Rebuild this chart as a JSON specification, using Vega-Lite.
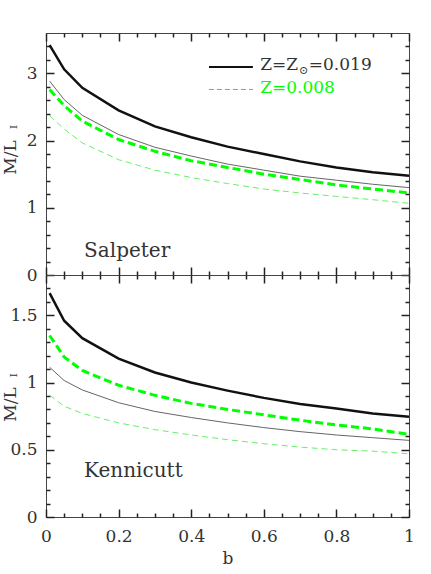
{
  "$schema": "https://vega.github.io/schema/vega-lite/v6.json",
  "padding": {"top": 31, "left": 0, "right": 5, "bottom": 5},
  "background": "white",
  "config": {
    "view": {"stroke": "#444", "strokeWidth": 1},
    "axis": {
      "grid": false,
      "domain": false,
      "ticks": true,
      "tickColor": "#222",
      "tickWidth": 1.5,
      "tickOpacity": 1,
      "labelFont": "DejaVu Serif",
      "labelFontSize": 17,
      "labelColor": "#333",
      "labelFlush": false,
      "labelOverlap": false,
      "titleFont": "DejaVu Serif",
      "titleFontSize": 17,
      "titleFontWeight": "normal",
      "titleColor": "#333"
    },
    "text": {"font": "DejaVu Serif", "color": "#333"}
  },
  "data": {
    "values": [
      {"panel": "Salpeter", "line": "solar1", "b": 0.01, "v": 3.42},
      {"panel": "Salpeter", "line": "solar1", "b": 0.05, "v": 3.06},
      {"panel": "Salpeter", "line": "solar1", "b": 0.1, "v": 2.785},
      {"panel": "Salpeter", "line": "solar1", "b": 0.2, "v": 2.45},
      {"panel": "Salpeter", "line": "solar1", "b": 0.3, "v": 2.21},
      {"panel": "Salpeter", "line": "solar1", "b": 0.4, "v": 2.05},
      {"panel": "Salpeter", "line": "solar1", "b": 0.5, "v": 1.91},
      {"panel": "Salpeter", "line": "solar1", "b": 0.6, "v": 1.8},
      {"panel": "Salpeter", "line": "solar1", "b": 0.7, "v": 1.69},
      {"panel": "Salpeter", "line": "solar1", "b": 0.8, "v": 1.6},
      {"panel": "Salpeter", "line": "solar1", "b": 0.9, "v": 1.53},
      {"panel": "Salpeter", "line": "solar1", "b": 1.0, "v": 1.478},
      {"panel": "Salpeter", "line": "solar2", "b": 0.01, "v": 2.885},
      {"panel": "Salpeter", "line": "solar2", "b": 0.05, "v": 2.61},
      {"panel": "Salpeter", "line": "solar2", "b": 0.1, "v": 2.375},
      {"panel": "Salpeter", "line": "solar2", "b": 0.2, "v": 2.09},
      {"panel": "Salpeter", "line": "solar2", "b": 0.3, "v": 1.9},
      {"panel": "Salpeter", "line": "solar2", "b": 0.4, "v": 1.77},
      {"panel": "Salpeter", "line": "solar2", "b": 0.5, "v": 1.65},
      {"panel": "Salpeter", "line": "solar2", "b": 0.6, "v": 1.56},
      {"panel": "Salpeter", "line": "solar2", "b": 0.7, "v": 1.47},
      {"panel": "Salpeter", "line": "solar2", "b": 0.8, "v": 1.41},
      {"panel": "Salpeter", "line": "solar2", "b": 0.9, "v": 1.35},
      {"panel": "Salpeter", "line": "solar2", "b": 1.0, "v": 1.3},
      {"panel": "Salpeter", "line": "low1", "b": 0.01, "v": 2.76},
      {"panel": "Salpeter", "line": "low1", "b": 0.05, "v": 2.52},
      {"panel": "Salpeter", "line": "low1", "b": 0.1, "v": 2.29},
      {"panel": "Salpeter", "line": "low1", "b": 0.2, "v": 2.015},
      {"panel": "Salpeter", "line": "low1", "b": 0.3, "v": 1.84},
      {"panel": "Salpeter", "line": "low1", "b": 0.4, "v": 1.7},
      {"panel": "Salpeter", "line": "low1", "b": 0.5, "v": 1.6},
      {"panel": "Salpeter", "line": "low1", "b": 0.6, "v": 1.5},
      {"panel": "Salpeter", "line": "low1", "b": 0.7, "v": 1.42},
      {"panel": "Salpeter", "line": "low1", "b": 0.8, "v": 1.34},
      {"panel": "Salpeter", "line": "low1", "b": 0.9, "v": 1.28},
      {"panel": "Salpeter", "line": "low1", "b": 1.0, "v": 1.22},
      {"panel": "Salpeter", "line": "low2", "b": 0.01, "v": 2.37},
      {"panel": "Salpeter", "line": "low2", "b": 0.05, "v": 2.17},
      {"panel": "Salpeter", "line": "low2", "b": 0.1, "v": 1.965},
      {"panel": "Salpeter", "line": "low2", "b": 0.2, "v": 1.715},
      {"panel": "Salpeter", "line": "low2", "b": 0.3, "v": 1.56},
      {"panel": "Salpeter", "line": "low2", "b": 0.4, "v": 1.45},
      {"panel": "Salpeter", "line": "low2", "b": 0.5, "v": 1.36},
      {"panel": "Salpeter", "line": "low2", "b": 0.6, "v": 1.28},
      {"panel": "Salpeter", "line": "low2", "b": 0.7, "v": 1.22},
      {"panel": "Salpeter", "line": "low2", "b": 0.8, "v": 1.17},
      {"panel": "Salpeter", "line": "low2", "b": 0.9, "v": 1.12},
      {"panel": "Salpeter", "line": "low2", "b": 1.0, "v": 1.067},
      {"panel": "Kennicutt", "line": "solar1", "b": 0.01, "v": 1.665},
      {"panel": "Kennicutt", "line": "solar1", "b": 0.05, "v": 1.46},
      {"panel": "Kennicutt", "line": "solar1", "b": 0.1, "v": 1.33},
      {"panel": "Kennicutt", "line": "solar1", "b": 0.2, "v": 1.178},
      {"panel": "Kennicutt", "line": "solar1", "b": 0.3, "v": 1.075},
      {"panel": "Kennicutt", "line": "solar1", "b": 0.4, "v": 1.0},
      {"panel": "Kennicutt", "line": "solar1", "b": 0.5, "v": 0.94},
      {"panel": "Kennicutt", "line": "solar1", "b": 0.6, "v": 0.886},
      {"panel": "Kennicutt", "line": "solar1", "b": 0.7, "v": 0.84},
      {"panel": "Kennicutt", "line": "solar1", "b": 0.8, "v": 0.807},
      {"panel": "Kennicutt", "line": "solar1", "b": 0.9, "v": 0.77},
      {"panel": "Kennicutt", "line": "solar1", "b": 1.0, "v": 0.745},
      {"panel": "Kennicutt", "line": "solar2", "b": 0.01, "v": 1.114},
      {"panel": "Kennicutt", "line": "solar2", "b": 0.05, "v": 1.015},
      {"panel": "Kennicutt", "line": "solar2", "b": 0.1, "v": 0.945},
      {"panel": "Kennicutt", "line": "solar2", "b": 0.2, "v": 0.85},
      {"panel": "Kennicutt", "line": "solar2", "b": 0.3, "v": 0.785},
      {"panel": "Kennicutt", "line": "solar2", "b": 0.4, "v": 0.74},
      {"panel": "Kennicutt", "line": "solar2", "b": 0.5, "v": 0.7},
      {"panel": "Kennicutt", "line": "solar2", "b": 0.6, "v": 0.665},
      {"panel": "Kennicutt", "line": "solar2", "b": 0.7, "v": 0.635},
      {"panel": "Kennicutt", "line": "solar2", "b": 0.8, "v": 0.61},
      {"panel": "Kennicutt", "line": "solar2", "b": 0.9, "v": 0.59},
      {"panel": "Kennicutt", "line": "solar2", "b": 1.0, "v": 0.57},
      {"panel": "Kennicutt", "line": "low1", "b": 0.01, "v": 1.35},
      {"panel": "Kennicutt", "line": "low1", "b": 0.05, "v": 1.19},
      {"panel": "Kennicutt", "line": "low1", "b": 0.1, "v": 1.09},
      {"panel": "Kennicutt", "line": "low1", "b": 0.2, "v": 0.98},
      {"panel": "Kennicutt", "line": "low1", "b": 0.3, "v": 0.905},
      {"panel": "Kennicutt", "line": "low1", "b": 0.4, "v": 0.845},
      {"panel": "Kennicutt", "line": "low1", "b": 0.5, "v": 0.8},
      {"panel": "Kennicutt", "line": "low1", "b": 0.6, "v": 0.76},
      {"panel": "Kennicutt", "line": "low1", "b": 0.7, "v": 0.72},
      {"panel": "Kennicutt", "line": "low1", "b": 0.8, "v": 0.685},
      {"panel": "Kennicutt", "line": "low1", "b": 0.9, "v": 0.655},
      {"panel": "Kennicutt", "line": "low1", "b": 1.0, "v": 0.615},
      {"panel": "Kennicutt", "line": "low2", "b": 0.01, "v": 0.906},
      {"panel": "Kennicutt", "line": "low2", "b": 0.05, "v": 0.824},
      {"panel": "Kennicutt", "line": "low2", "b": 0.1, "v": 0.77},
      {"panel": "Kennicutt", "line": "low2", "b": 0.2, "v": 0.7},
      {"panel": "Kennicutt", "line": "low2", "b": 0.3, "v": 0.65},
      {"panel": "Kennicutt", "line": "low2", "b": 0.4, "v": 0.61},
      {"panel": "Kennicutt", "line": "low2", "b": 0.5, "v": 0.575},
      {"panel": "Kennicutt", "line": "low2", "b": 0.6, "v": 0.545},
      {"panel": "Kennicutt", "line": "low2", "b": 0.7, "v": 0.52},
      {"panel": "Kennicutt", "line": "low2", "b": 0.8, "v": 0.5},
      {"panel": "Kennicutt", "line": "low2", "b": 0.9, "v": 0.49},
      {"panel": "Kennicutt", "line": "low2", "b": 1.0, "v": 0.47}
    ]
  },
  "spacing": 0,
  "bounds": "flush",
  "vconcat": [
    {
      "width": 363,
      "height": 242,
      "resolve": {"scale": {"x": "independent", "y": "independent"}},
      "layer": [
        {
          "transform": [{"filter": "datum.panel === 'Salpeter' && datum.line === 'solar1'"}],
          "mark": {"type": "line", "stroke": "#111", "strokeWidth": 2.5},
          "encoding": {
            "x": {"field": "b", "type": "quantitative", "scale": {"domain": [0, 1], "nice": false},
              "axis": {"orient": "bottom", "values": [0, 0.2, 0.4, 0.6, 0.8, 1], "offset": -8, "tickSize": 8, "labels": false, "title": null}},
            "y": {"field": "v", "type": "quantitative", "scale": {"domain": [0, 3.6], "nice": false, "zero": false},
              "axis": {"orient": "left", "values": [0, 1, 2, 3], "format": "~g", "offset": -8, "tickSize": 8, "labelPadding": 9, "title": "M/L", "titleAngle": 270, "titleBaseline": "alphabetic", "titleX": -39, "titleY": 124}}
          }
        },
        {
          "transform": [{"filter": "datum.panel === 'Salpeter' && datum.line === 'solar2'"}],
          "mark": {"type": "line", "stroke": "#666", "strokeWidth": 1},
          "encoding": {
            "x": {"field": "b", "type": "quantitative", "scale": {"domain": [0, 1], "nice": false},
              "axis": {"orient": "bottom", "values": [0.05, 0.1, 0.15, 0.25, 0.3, 0.35, 0.45, 0.5, 0.55, 0.65, 0.7, 0.75, 0.85, 0.9, 0.95], "offset": -4, "tickSize": 4, "labels": false, "title": null}},
            "y": {"field": "v", "type": "quantitative", "scale": {"domain": [0, 3.6], "nice": false, "zero": false},
              "axis": {"orient": "left", "values": [0.2, 0.4, 0.6, 0.8, 1.2, 1.4, 1.6, 1.8, 2.2, 2.4, 2.6, 2.8, 3.2, 3.4], "offset": -4, "tickSize": 4, "labels": false, "title": null}}
          }
        },
        {
          "transform": [{"filter": "datum.panel === 'Salpeter' && datum.line === 'low1'"}],
          "mark": {"type": "line", "stroke": "#00ff00", "strokeWidth": 3, "strokeDash": [8, 4]},
          "encoding": {
            "x": {"field": "b", "type": "quantitative", "scale": {"domain": [0, 1], "nice": false},
              "axis": {"orient": "top", "values": [0, 0.2, 0.4, 0.6, 0.8, 1], "offset": -8, "tickSize": 8, "labels": false, "title": null}},
            "y": {"field": "v", "type": "quantitative", "scale": {"domain": [0, 3.6], "nice": false, "zero": false},
              "axis": {"orient": "right", "values": [0, 1, 2, 3], "offset": -8, "tickSize": 8, "labels": false, "title": null}}
          }
        },
        {
          "transform": [{"filter": "datum.panel === 'Salpeter' && datum.line === 'low2'"}],
          "mark": {"type": "line", "stroke": "#55ee55", "strokeWidth": 0.9, "strokeDash": [6, 4]},
          "encoding": {
            "x": {"field": "b", "type": "quantitative", "scale": {"domain": [0, 1], "nice": false},
              "axis": {"orient": "top", "values": [0.05, 0.1, 0.15, 0.25, 0.3, 0.35, 0.45, 0.5, 0.55, 0.65, 0.7, 0.75, 0.85, 0.9, 0.95], "offset": -4, "tickSize": 4, "labels": false, "title": null}},
            "y": {"field": "v", "type": "quantitative", "scale": {"domain": [0, 3.6], "nice": false, "zero": false},
              "axis": {"orient": "right", "values": [0.2, 0.4, 0.6, 0.8, 1.2, 1.4, 1.6, 1.8, 2.2, 2.4, 2.6, 2.8, 3.2, 3.4], "offset": -4, "tickSize": 4, "labels": false, "title": null}}
          }
        },
        {
          "data": {"values": [{}]},
          "mark": {"type": "text", "text": "I", "fontSize": 10, "angle": 270, "align": "center", "baseline": "alphabetic"},
          "encoding": {
            "x": {"datum": -0.081, "type": "quantitative", "scale": {"domain": [0, 1], "nice": false}, "axis": null},
            "y": {"datum": 2.2, "type": "quantitative", "scale": {"domain": [0, 3.6], "nice": false, "zero": false}, "axis": null}
          }
        },
        {
          "data": {"values": [{}]},
          "mark": {"type": "text", "text": "Salpeter", "fontSize": 20, "align": "left", "baseline": "alphabetic"},
          "encoding": {
            "x": {"datum": 0.105, "type": "quantitative", "scale": {"domain": [0, 1], "nice": false}, "axis": null},
            "y": {"datum": 0.274, "type": "quantitative", "scale": {"domain": [0, 3.6], "nice": false, "zero": false}, "axis": null}
          }
        },
        {
          "data": {"values": [{}]},
          "mark": {"type": "rule", "stroke": "#111", "strokeWidth": 2},
          "encoding": {
            "x": {"datum": 0.449, "type": "quantitative", "scale": {"domain": [0, 1], "nice": false}, "axis": null},
            "x2": {"datum": 0.57},
            "y": {"datum": 3.096, "type": "quantitative", "scale": {"domain": [0, 3.6], "nice": false, "zero": false}, "axis": null}
          }
        },
        {
          "data": {"values": [{}]},
          "mark": {"type": "rule", "stroke": "#00ff00", "strokeWidth": 1, "strokeDash": [5, 3]},
          "encoding": {
            "x": {"datum": 0.449, "type": "quantitative", "scale": {"domain": [0, 1], "nice": false}, "axis": null},
            "x2": {"datum": 0.57},
            "y": {"datum": 2.76, "type": "quantitative", "scale": {"domain": [0, 3.6], "nice": false, "zero": false}, "axis": null}
          }
        },
        {
          "data": {"values": [{}]},
          "mark": {"type": "text", "text": "Z=Z", "fontSize": 17, "align": "left", "baseline": "alphabetic"},
          "encoding": {
            "x": {"datum": 0.59, "type": "quantitative", "scale": {"domain": [0, 1], "nice": false}, "axis": null},
            "y": {"datum": 3.047, "type": "quantitative", "scale": {"domain": [0, 3.6], "nice": false, "zero": false}, "axis": null}
          }
        },
        {
          "data": {"values": [{}]},
          "mark": {"type": "text", "text": "⊙", "fontSize": 11, "align": "left", "baseline": "alphabetic"},
          "encoding": {
            "x": {"datum": 0.697, "type": "quantitative", "scale": {"domain": [0, 1], "nice": false}, "axis": null},
            "y": {"datum": 2.99, "type": "quantitative", "scale": {"domain": [0, 3.6], "nice": false, "zero": false}, "axis": null}
          }
        },
        {
          "data": {"values": [{}]},
          "mark": {"type": "text", "text": "=0.019", "fontSize": 17, "align": "left", "baseline": "alphabetic"},
          "encoding": {
            "x": {"datum": 0.724, "type": "quantitative", "scale": {"domain": [0, 1], "nice": false}, "axis": null},
            "y": {"datum": 3.047, "type": "quantitative", "scale": {"domain": [0, 3.6], "nice": false, "zero": false}, "axis": null}
          }
        },
        {
          "data": {"values": [{}]},
          "mark": {"type": "text", "text": "Z=0.008", "fontSize": 17, "align": "left", "baseline": "alphabetic", "color": "#00ff00"},
          "encoding": {
            "x": {"datum": 0.59, "type": "quantitative", "scale": {"domain": [0, 1], "nice": false}, "axis": null},
            "y": {"datum": 2.71, "type": "quantitative", "scale": {"domain": [0, 3.6], "nice": false, "zero": false}, "axis": null}
          }
        }
      ]
    },
    {
      "width": 363,
      "height": 242,
      "resolve": {"scale": {"x": "independent", "y": "independent"}},
      "layer": [
        {
          "transform": [{"filter": "datum.panel === 'Kennicutt' && datum.line === 'solar1'"}],
          "mark": {"type": "line", "stroke": "#111", "strokeWidth": 2.5},
          "encoding": {
            "x": {"field": "b", "type": "quantitative", "scale": {"domain": [0, 1], "nice": false},
              "axis": {"orient": "bottom", "values": [0, 0.2, 0.4, 0.6, 0.8, 1], "format": "~g", "offset": -8, "tickSize": 8, "labelPadding": 11, "title": "b", "titlePadding": 6}},
            "y": {"field": "v", "type": "quantitative", "scale": {"domain": [0, 1.8], "nice": false, "zero": false},
              "axis": {"orient": "left", "values": [0, 0.5, 1, 1.5], "format": "~g", "offset": -8, "tickSize": 8, "labelPadding": 9, "title": "M/L", "titleAngle": 270, "titleBaseline": "alphabetic", "titleX": -39, "titleY": 129}}
          }
        },
        {
          "transform": [{"filter": "datum.panel === 'Kennicutt' && datum.line === 'solar2'"}],
          "mark": {"type": "line", "stroke": "#666", "strokeWidth": 1},
          "encoding": {
            "x": {"field": "b", "type": "quantitative", "scale": {"domain": [0, 1], "nice": false},
              "axis": {"orient": "bottom", "values": [0.05, 0.1, 0.15, 0.25, 0.3, 0.35, 0.45, 0.5, 0.55, 0.65, 0.7, 0.75, 0.85, 0.9, 0.95], "offset": -4, "tickSize": 4, "labels": false, "title": null}},
            "y": {"field": "v", "type": "quantitative", "scale": {"domain": [0, 1.8], "nice": false, "zero": false},
              "axis": {"orient": "left", "values": [0.1, 0.2, 0.3, 0.4, 0.6, 0.7, 0.8, 0.9, 1.1, 1.2, 1.3, 1.4, 1.6, 1.7], "offset": -4, "tickSize": 4, "labels": false, "title": null}}
          }
        },
        {
          "transform": [{"filter": "datum.panel === 'Kennicutt' && datum.line === 'low1'"}],
          "mark": {"type": "line", "stroke": "#00ff00", "strokeWidth": 3, "strokeDash": [8, 4]},
          "encoding": {
            "x": {"field": "b", "type": "quantitative", "scale": {"domain": [0, 1], "nice": false},
              "axis": {"orient": "top", "values": [0, 0.2, 0.4, 0.6, 0.8, 1], "offset": -8, "tickSize": 8, "labels": false, "title": null}},
            "y": {"field": "v", "type": "quantitative", "scale": {"domain": [0, 1.8], "nice": false, "zero": false},
              "axis": {"orient": "right", "values": [0, 0.5, 1, 1.5], "offset": -8, "tickSize": 8, "labels": false, "title": null}}
          }
        },
        {
          "transform": [{"filter": "datum.panel === 'Kennicutt' && datum.line === 'low2'"}],
          "mark": {"type": "line", "stroke": "#55ee55", "strokeWidth": 0.9, "strokeDash": [6, 4]},
          "encoding": {
            "x": {"field": "b", "type": "quantitative", "scale": {"domain": [0, 1], "nice": false},
              "axis": {"orient": "top", "values": [0.05, 0.1, 0.15, 0.25, 0.3, 0.35, 0.45, 0.5, 0.55, 0.65, 0.7, 0.75, 0.85, 0.9, 0.95], "offset": -4, "tickSize": 4, "labels": false, "title": null}},
            "y": {"field": "v", "type": "quantitative", "scale": {"domain": [0, 1.8], "nice": false, "zero": false},
              "axis": {"orient": "right", "values": [0.1, 0.2, 0.3, 0.4, 0.6, 0.7, 0.8, 0.9, 1.1, 1.2, 1.3, 1.4, 1.6, 1.7], "offset": -4, "tickSize": 4, "labels": false, "title": null}}
          }
        },
        {
          "data": {"values": [{}]},
          "mark": {"type": "text", "text": "I", "fontSize": 10, "angle": 270, "align": "center", "baseline": "alphabetic"},
          "encoding": {
            "x": {"datum": -0.081, "type": "quantitative", "scale": {"domain": [0, 1], "nice": false}, "axis": null},
            "y": {"datum": 1.054, "type": "quantitative", "scale": {"domain": [0, 1.8], "nice": false, "zero": false}, "axis": null}
          }
        },
        {
          "data": {"values": [{}]},
          "mark": {"type": "text", "text": "Kennicutt", "fontSize": 20, "align": "left", "baseline": "alphabetic"},
          "encoding": {
            "x": {"datum": 0.105, "type": "quantitative", "scale": {"domain": [0, 1], "nice": false}, "axis": null},
            "y": {"datum": 0.297, "type": "quantitative", "scale": {"domain": [0, 1.8], "nice": false, "zero": false}, "axis": null}
          }
        }
      ]
    }
  ]
}
